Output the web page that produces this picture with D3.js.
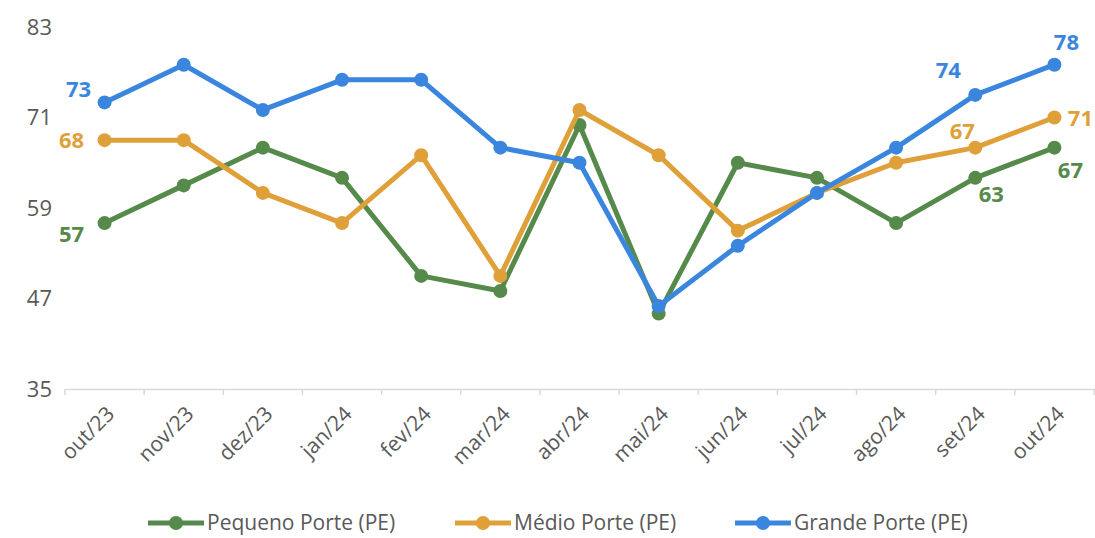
<!DOCTYPE html>
<html>
<head>
<meta charset="utf-8">
<script src="https://cdn.jsdelivr.net/npm/d3@7"></script>
<style>
  body { margin: 0; background: #fff; }
  text { font-family: "Open Sans", "Noto Sans", sans-serif; }
</style>
</head>
<body>
<div id="chart"></div>
<script>
var months = ["out/23", "nov/23", "dez/23", "jan/24", "fev/24", "mar/24", "abr/24",
              "mai/24", "jun/24", "jul/24", "ago/24", "set/24", "out/24"];
var pequeno = [57, 62, 67, 63, 50, 48, 70, 45, 65, 63, 57, 63, 67];
var medio   = [68, 68, 61, 57, 66, 50, 72, 66, 56, 61, 65, 67, 71];
var grande  = [73, 78, 72, 76, 76, 67, 65, 46, 54, 61, 67, 74, 78];
var yTicks = [35, 47, 59, 71, 83];
var seriesNames = ["Pequeno Porte (PE)", "Médio Porte (PE)", "Grande Porte (PE)"];

var width = 1095, height = 538;
var colors = ["#568A4B", "#DFA03A", "#3A86DE"];

var svg = d3.select("#chart").append("svg")
            .attr("width", width)
            .attr("height", height);

var x = d3.scaleBand().domain(months).range([65, 1094]);
var y = d3.scaleLinear().domain([35, 83]).range([389, 27]);

// x axis
var xAxis = svg.append("g")
  .attr("transform", "translate(0,389)")
  .call(d3.axisBottom(x).tickSize(0).tickPadding(0));
xAxis.select(".domain").attr("stroke", "#d9d9d9").attr("stroke-width", 1.5);
xAxis.selectAll(".tick text").remove();
// tick marks at band edges
var edges = months.map(function(m){ return x(m); }).concat([x.range()[1]]);
xAxis.selectAll(".edge").data(edges).enter().append("line")
  .attr("x1", function(d){ return d; }).attr("x2", function(d){ return d; })
  .attr("y1", 0).attr("y2", 6)
  .attr("stroke", "#d9d9d9").attr("stroke-width", 1.5);
svg.append("g").selectAll("text").data(months).enter().append("text")
  .attr("transform", function(d){
    return "translate(" + (x(d) + x.bandwidth()/2 + 6) + ",410) rotate(-45)";
  })
  .attr("text-anchor", "end")
  .attr("dy", "0.35em")
  .attr("font-size", 21)
  .attr("fill", "#595959")
  .text(function(d){ return d; });

// y axis labels
var yAxis = svg.append("g")
  .attr("transform", "translate(52,0)")
  .call(d3.axisLeft(y).tickValues(yTicks).tickSize(0).tickPadding(0));
yAxis.select(".domain").remove();
yAxis.selectAll("text").attr("font-size", 22).attr("fill", "#595959")
  .style("font-family", "'Open Sans', 'Noto Sans', sans-serif");

var allSeries = [pequeno, medio, grande];
var cx = function(i){ return x(months[i]) + x.bandwidth()/2; };
var line = d3.line()
  .x(function(d, i){ return cx(i); })
  .y(function(d){ return y(d); });

allSeries.forEach(function(s, k){
  svg.append("path").datum(s)
    .attr("fill", "none")
    .attr("stroke", colors[k])
    .attr("stroke-width", 5)
    .attr("stroke-linejoin", "round")
    .attr("d", line);
  svg.append("g").selectAll("circle").data(s).enter().append("circle")
    .attr("cx", function(d, i){ return cx(i); })
    .attr("cy", function(d){ return y(d); })
    .attr("r", 7)
    .attr("fill", colors[k]);
});

// data labels: [series, index, dx, dy]
var labels = [
  [0, 0, -33, 11], [1, 0, -33, 0], [2, 0, -26, -13],
  [0, 11, 16, 16], [1, 11, -13, -16], [2, 11, -27, -25],
  [0, 12, 16, 23], [1, 12, 26, 1], [2, 12, 12, -22]
];
svg.append("g").selectAll("text").data(labels).enter().append("text")
  .attr("x", function(d){ return cx(d[1]) + d[2]; })
  .attr("y", function(d){ return y(allSeries[d[0]][d[1]]) + d[3]; })
  .attr("text-anchor", "middle")
  .attr("dy", "0.35em")
  .attr("font-size", 22)
  .attr("font-weight", "bold")
  .attr("fill", function(d){ return colors[d[0]]; })
  .text(function(d){ return allSeries[d[0]][d[1]]; });

// legend
var legendX = [148, 455, 735];
var legend = svg.append("g").selectAll("g").data(seriesNames).enter().append("g")
  .attr("transform", function(d, i){ return "translate(" + legendX[i] + ",523)"; });
legend.append("line")
  .attr("x1", 0).attr("x2", 56).attr("y1", 0).attr("y2", 0)
  .attr("stroke", function(d, i){ return colors[i]; })
  .attr("stroke-width", 5);
legend.append("circle")
  .attr("cx", 28).attr("cy", 0).attr("r", 7)
  .attr("fill", function(d, i){ return colors[i]; });
legend.append("text")
  .attr("x", 59).attr("dy", "0.35em")
  .attr("font-size", 21)
  .attr("fill", "#595959")
  .text(function(d){ return d; });
</script>
</body>
</html>
